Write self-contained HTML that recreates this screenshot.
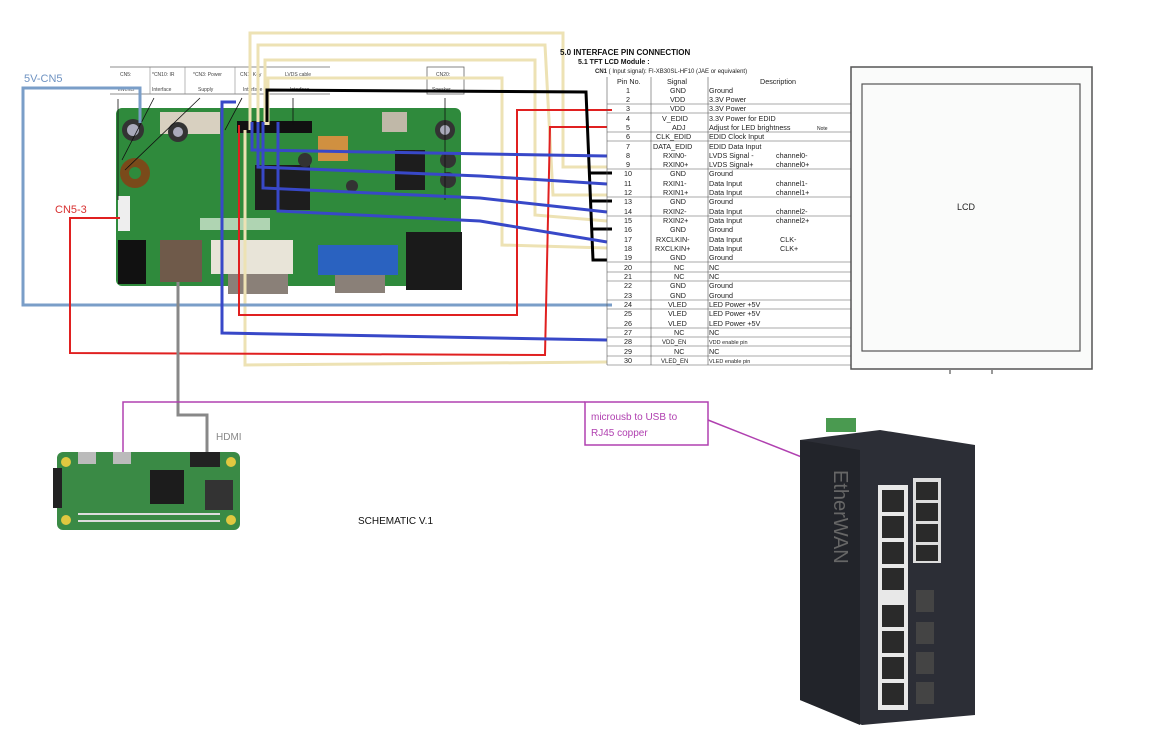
<!DOCTYPE html>
<html><head><meta charset="utf-8"><style>
html,body{margin:0;padding:0;background:#fff;}
svg{display:block;}
text{font-family:"Liberation Sans",sans-serif;}
</style></head><body>
<svg width="1153" height="749" viewBox="0 0 1153 749" xmlns="http://www.w3.org/2000/svg">
<rect width="1153" height="749" fill="#fff"/>

<g font-size="5" fill="#444">
<line x1="110" y1="67" x2="330" y2="67" stroke="#666" stroke-width="0.8"/>
<line x1="110" y1="94" x2="330" y2="94" stroke="#666" stroke-width="0.8"/>
<line x1="150" y1="67" x2="150" y2="94" stroke="#888" stroke-width="0.6"/>
<line x1="185" y1="67" x2="185" y2="94" stroke="#888" stroke-width="0.6"/>
<line x1="235" y1="67" x2="235" y2="94" stroke="#888" stroke-width="0.6"/>
<text x="120" y="76">CN5:</text><text x="152" y="76">*CN10: IR</text><text x="193" y="76">*CN3: Power</text><text x="240" y="76">CN1: Key</text><text x="285" y="76">LVDS cable</text>
<text x="118" y="91">Inverter</text><text x="152" y="91">Interface</text><text x="198" y="91">Supply</text><text x="243" y="91">Interface</text><text x="290" y="91">Interface</text>
<rect x="427" y="67" width="37" height="27" fill="none" stroke="#666" stroke-width="0.8"/>
<text x="436" y="76">CN20:</text><text x="432" y="91">Speaker</text>
</g>

<rect x="116" y="108" width="345" height="178" rx="6" fill="#2f8a3c"/>
<rect x="160" y="112" width="60" height="22" fill="#d8d0c0"/>
<circle cx="133" cy="130" r="11" fill="#333"/><circle cx="133" cy="130" r="6" fill="#aab"/>
<circle cx="178" cy="132" r="10" fill="#333"/><circle cx="178" cy="132" r="5" fill="#aab"/>
<circle cx="135" cy="173" r="15" fill="#7a4a1a"/><circle cx="135" cy="173" r="6" fill="#2f8a3c"/>
<rect x="118" y="196" width="12" height="35" fill="#eee"/>
<rect x="255" y="165" width="55" height="45" fill="#1d1d1d"/>
<rect x="237" y="121" width="75" height="12" fill="#111"/>
<rect x="318" y="136" width="30" height="25" fill="#d09040"/>
<rect x="382" y="112" width="25" height="20" fill="#c0b8a8"/>
<circle cx="445" cy="130" r="10" fill="#333"/><circle cx="445" cy="130" r="5" fill="#aab"/>
<circle cx="448" cy="160" r="8" fill="#333"/><circle cx="448" cy="180" r="8" fill="#333"/>
<rect x="395" y="150" width="30" height="40" fill="#1d1d1d"/>
<circle cx="305" cy="160" r="7" fill="#333"/><circle cx="352" cy="186" r="6" fill="#333"/>
<rect x="200" y="218" width="70" height="12" fill="#cfe6cf" opacity="0.8"/>
<rect x="118" y="240" width="28" height="44" fill="#111"/>
<rect x="160" y="240" width="42" height="42" fill="#6f5a4a"/>
<rect x="211" y="240" width="82" height="34" fill="#e8e4d8"/>
<rect x="228" y="274" width="60" height="20" fill="#8a8078"/>
<rect x="318" y="245" width="80" height="30" fill="#2a62c0"/>
<rect x="335" y="275" width="50" height="18" fill="#8a8078"/>
<rect x="406" y="232" width="56" height="58" fill="#1a1a1a"/>

<g stroke="#111" stroke-width="0.8" fill="none">
<line x1="118" y1="200" x2="118" y2="99"/>
<line x1="122" y1="160" x2="154" y2="98"/>
<line x1="125" y1="170" x2="200" y2="98"/>
<line x1="225" y1="130" x2="242" y2="98"/>
<line x1="293" y1="125" x2="293" y2="98"/>
<line x1="445" y1="200" x2="445" y2="98"/>
</g>

<g stroke="#ede2b4" stroke-width="3" fill="none">
<polyline points="245,130 245,365 607,362"/>
<polyline points="250,130 250,33 563,33 563,167 607,167"/>
<polyline points="258,125 258,45 545,45 553,195 607,195"/>
<polyline points="265,125 265,60 535,60 535,215 607,221"/>
<polyline points="268,125 268,78 502,78 502,245 607,248"/>
</g>

<polyline points="140,123 140,88 23,88 23,305 612,305" stroke="#7a9ec8" stroke-width="3" fill="none"/>
<polyline points="120,218 70,218 70,353 545,355 550,127 607,127" stroke="#e02020" stroke-width="2" fill="none"/>
<polyline points="239,125 239,315 517,315 517,110 612,110" stroke="#e02020" stroke-width="2" fill="none"/>
<polyline points="267,122 267,90 586,92 593,260 607,260" stroke="#000" stroke-width="3" fill="none"/>
<g stroke="#000" stroke-width="3"><line x1="590" y1="173" x2="612" y2="173"/><line x1="591" y1="201" x2="612" y2="201"/><line x1="592" y1="229" x2="612" y2="229"/></g>
<g stroke="#3848c8" stroke-width="3" fill="none">
<polyline points="236,102 222,102 222,333 607,340"/>
<polyline points="252,122 252,150 607,156"/>
<polyline points="258,122 258,167 480,176 607,184"/>
<polyline points="263,122 263,188 480,198 607,212"/>
<polyline points="278,122 278,211 480,221 607,242"/>
</g>

<text x="24" y="82" font-size="11" fill="#6f93c2">5V-CN5</text>
<text x="55" y="213" font-size="11" fill="#d83030">CN5-3</text>

<text x="560" y="55" font-size="8" font-weight="bold" fill="#111">5.0  INTERFACE PIN CONNECTION</text>
<text x="578" y="64" font-size="7" font-weight="bold" fill="#111">5.1  TFT LCD Module :</text>
<text x="595" y="73" font-size="6" fill="#222"><tspan font-weight="bold">CN1</tspan> ( Input signal): FI-XB30SL-HF10 (JAE or equivalent)</text>
<g font-size="7.2" fill="#222">
<text x="617" y="84">Pin No.</text><text x="667" y="84">Signal</text><text x="760" y="84">Description</text>
</g>
<g stroke="#555" stroke-width="0.6">
<line x1="607" y1="77" x2="607" y2="365"/><line x1="651" y1="77" x2="651" y2="365"/><line x1="708" y1="77" x2="708" y2="365"/>
<line x1="607" y1="104" x2="851" y2="104"/><line x1="607" y1="113" x2="851" y2="113"/><line x1="607" y1="132" x2="851" y2="132"/><line x1="607" y1="141" x2="851" y2="141"/><line x1="607" y1="169" x2="851" y2="169"/><line x1="607" y1="197" x2="851" y2="197"/><line x1="607" y1="216" x2="851" y2="216"/><line x1="607" y1="262" x2="851" y2="262"/><line x1="607" y1="272" x2="851" y2="272"/><line x1="607" y1="281" x2="851" y2="281"/><line x1="607" y1="300" x2="851" y2="300"/><line x1="607" y1="309" x2="851" y2="309"/><line x1="607" y1="328" x2="851" y2="328"/><line x1="607" y1="337" x2="851" y2="337"/><line x1="607" y1="346" x2="851" y2="346"/><line x1="607" y1="356" x2="851" y2="356"/><line x1="607" y1="365" x2="851" y2="365"/>
</g>
<g font-size="7.2" fill="#222">
<text x="626" y="93">1</text><text x="670" y="93">GND</text><text x="709" y="93">Ground</text>
<text x="626" y="102">2</text><text x="670" y="102">VDD</text><text x="709" y="102">3.3V Power</text>
<text x="626" y="111">3</text><text x="670" y="111">VDD</text><text x="709" y="111">3.3V Power</text>
<text x="626" y="121">4</text><text x="662" y="121">V_EDID</text><text x="709" y="121">3.3V Power for EDID</text>
<text x="626" y="130">5</text><text x="672" y="130">ADJ</text><text x="709" y="130">Adjust for LED brightness</text><text x="817" y="130" font-size="5">Note</text>
<text x="626" y="139">6</text><text x="656" y="139">CLK_EDID</text><text x="709" y="139">EDID Clock Input</text>
<text x="626" y="149">7</text><text x="653" y="149">DATA_EDID</text><text x="709" y="149">EDID Data Input</text>
<text x="626" y="158">8</text><text x="663" y="158">RXIN0-</text><text x="709" y="158">LVDS Signal -</text><text x="776" y="158">channel0-</text>
<text x="626" y="167">9</text><text x="663" y="167">RXIN0+</text><text x="709" y="167">LVDS Signal+</text><text x="776" y="167">channel0+</text>
<text x="624" y="176">10</text><text x="670" y="176">GND</text><text x="709" y="176">Ground</text>
<text x="624" y="186">11</text><text x="663" y="186">RXIN1-</text><text x="709" y="186">Data Input</text><text x="776" y="186">channel1-</text>
<text x="624" y="195">12</text><text x="663" y="195">RXIN1+</text><text x="709" y="195">Data Input</text><text x="776" y="195">channel1+</text>
<text x="624" y="204">13</text><text x="670" y="204">GND</text><text x="709" y="204">Ground</text>
<text x="624" y="214">14</text><text x="663" y="214">RXIN2-</text><text x="709" y="214">Data Input</text><text x="776" y="214">channel2-</text>
<text x="624" y="223">15</text><text x="663" y="223">RXIN2+</text><text x="709" y="223">Data Input</text><text x="776" y="223">channel2+</text>
<text x="624" y="232">16</text><text x="670" y="232">GND</text><text x="709" y="232">Ground</text>
<text x="624" y="242">17</text><text x="656" y="242">RXCLKIN-</text><text x="709" y="242">Data Input</text><text x="780" y="242">CLK-</text>
<text x="624" y="251">18</text><text x="655" y="251">RXCLKIN+</text><text x="709" y="251">Data Input</text><text x="780" y="251">CLK+</text>
<text x="624" y="260">19</text><text x="670" y="260">GND</text><text x="709" y="260">Ground</text>
<text x="624" y="270">20</text><text x="674" y="270">NC</text><text x="709" y="270">NC</text>
<text x="624" y="279">21</text><text x="674" y="279">NC</text><text x="709" y="279">NC</text>
<text x="624" y="288">22</text><text x="670" y="288">GND</text><text x="709" y="288">Ground</text>
<text x="624" y="298">23</text><text x="670" y="298">GND</text><text x="709" y="298">Ground</text>
<text x="624" y="307">24</text><text x="668" y="307">VLED</text><text x="709" y="307">LED Power +5V</text>
<text x="624" y="316">25</text><text x="668" y="316">VLED</text><text x="709" y="316">LED Power +5V</text>
<text x="624" y="326">26</text><text x="668" y="326">VLED</text><text x="709" y="326">LED Power +5V</text>
<text x="624" y="335">27</text><text x="674" y="335">NC</text><text x="709" y="335">NC</text>
<text x="624" y="344">28</text><text x="662" y="344" font-size="6">VDD_EN</text><text x="709" y="344" font-size="5.5">VDD enable pin</text>
<text x="624" y="354">29</text><text x="674" y="354">NC</text><text x="709" y="354">NC</text>
<text x="624" y="363">30</text><text x="661" y="363" font-size="6">VLED_EN</text><text x="709" y="363" font-size="5.5">VLED enable pin</text>
</g>

<rect x="851" y="67" width="241" height="302" fill="#fafbfa" stroke="#555" stroke-width="1.5"/>
<rect x="862" y="84" width="218" height="267" fill="#fafbfa" stroke="#555" stroke-width="1.2"/>
<text x="957" y="210" font-size="9" fill="#222">LCD</text>
<line x1="950" y1="370" x2="950" y2="374" stroke="#333"/><line x1="992" y1="370" x2="992" y2="374" stroke="#333"/>

<polyline points="178,282 178,415 207,415 207,455" stroke="#888" stroke-width="3" fill="none"/>
<text x="216" y="440" font-size="10" fill="#888">HDMI</text>

<polyline points="123,460 123,402 585,402" stroke="#b040b0" stroke-width="1.5" fill="none"/>
<rect x="585" y="402" width="123" height="43" fill="#fff" stroke="#b040b0" stroke-width="1.5"/>
<text x="591" y="420" font-size="10" fill="#b040b0">microusb to USB to</text>
<text x="591" y="436" font-size="10" fill="#b040b0">RJ45 copper</text>
<line x1="708" y1="420" x2="885" y2="490" stroke="#b040b0" stroke-width="1.5"/>

<rect x="57" y="452" width="183" height="78" rx="6" fill="#3a8a45"/>
<circle cx="66" cy="462" r="5" fill="#e0c840"/><circle cx="231" cy="462" r="5" fill="#e0c840"/>
<circle cx="66" cy="520" r="5" fill="#e0c840"/><circle cx="231" cy="520" r="5" fill="#e0c840"/>
<rect x="78" y="452" width="18" height="12" fill="#bbb"/><rect x="113" y="452" width="18" height="12" fill="#bbb"/>
<rect x="190" y="452" width="30" height="15" fill="#222"/>
<rect x="53" y="468" width="9" height="40" fill="#222"/>
<rect x="150" y="470" width="34" height="34" fill="#1c1c1c"/>
<rect x="205" y="480" width="28" height="30" fill="#333"/>
<g fill="#ddd"><rect x="78" y="513" width="142" height="2"/><rect x="78" y="520" width="142" height="2"/></g>

<text x="358" y="524" font-size="10" fill="#111">SCHEMATIC V.1</text>

<rect x="826" y="418" width="30" height="14" fill="#4a9a50"/>
<polygon points="800,440 880,430 975,445 975,715 862,725 800,700" fill="#2c2e36"/>
<polygon points="800,440 860,450 860,725 800,700" fill="#22242a"/>
<rect x="878" y="485" width="30" height="115" fill="#e8e8e8"/>
<rect x="878" y="600" width="30" height="110" fill="#e8e8e8"/>
<rect x="913" y="478" width="28" height="85" fill="#ddd"/>
<g fill="#2a2a2a">
<rect x="882" y="490" width="22" height="22"/><rect x="882" y="516" width="22" height="22"/><rect x="882" y="542" width="22" height="22"/><rect x="882" y="568" width="22" height="22"/>
<rect x="882" y="605" width="22" height="22"/><rect x="882" y="631" width="22" height="22"/><rect x="882" y="657" width="22" height="22"/><rect x="882" y="683" width="22" height="22"/>
<rect x="916" y="482" width="22" height="18"/><rect x="916" y="503" width="22" height="18"/><rect x="916" y="524" width="22" height="18"/><rect x="916" y="545" width="22" height="16"/>
<rect x="916" y="590" width="18" height="22" fill="#444"/><rect x="916" y="622" width="18" height="22" fill="#444"/><rect x="916" y="652" width="18" height="22" fill="#444"/><rect x="916" y="682" width="18" height="22" fill="#444"/>
</g>
<text x="0" y="0" font-size="20" fill="#666" transform="translate(834,470) rotate(90)">EtherWAN</text>
</svg>
</body></html>
